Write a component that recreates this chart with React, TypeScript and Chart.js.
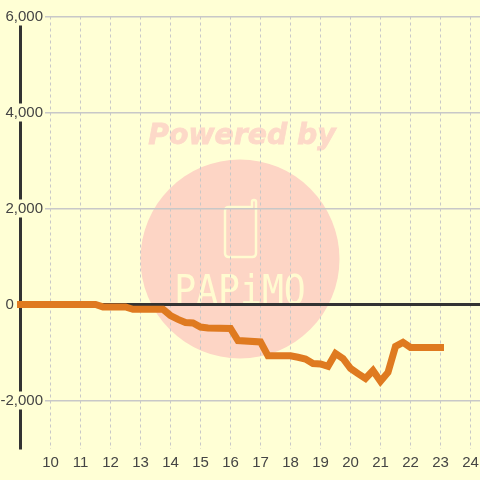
import React, { useEffect, useRef } from "react";
import { Chart, registerables } from "chart.js";

Chart.register(...registerables);

const hours = [9, 11.5, 11.75, 12.5, 12.75, 13.75, 14, 14.25, 14.5, 14.75, 15, 15.25, 16, 16.25, 17, 17.25, 18, 18.25, 18.5, 18.75, 19, 19.25, 19.5, 19.75, 20, 20.25, 20.5, 20.75, 21, 21.25, 21.5, 21.75, 22, 23];
const balance = [0, 0, -50, -50, -100, -100, -230, -310, -375, -385, -470, -490, -500, -750, -780, -1070, -1070, -1100, -1135, -1230, -1240, -1290, -1020, -1125, -1330, -1440, -1540, -1375, -1600, -1415, -875, -790, -895, -895];
const xTickValues = [10, 11, 12, 13, 14, 15, 16, 17, 18, 19, 20, 21, 22, 23, 24];
const yLabelled = [6000, 4000, 2000, 0, -2000];

const BG = "#FFFFD5";
const INK = "#333333";
const LABEL = "#444444";
const GRID = "#C8C8C8";
const FONT = { family: "'Liberation Sans', Arial, sans-serif", size: 15 };

const watermark = {
  id: "watermark",
  beforeDraw(chart: any) {
    const c = chart.ctx;
    c.save();
    c.fillStyle = BG;
    c.fillRect(0, 0, chart.width, chart.height);
    c.fillStyle = "#FDD5C5";
    c.beginPath();
    c.arc(240, 259, 99.5, 0, Math.PI * 2);
    c.fill();

    c.fillStyle = "#FDD9C8";
    c.strokeStyle = "#FDD9C8";
    c.lineWidth = 0.8;
    c.font = "italic bold 28.3px 'DejaVu Sans'";
    c.textAlign = "center";
    c.textBaseline = "alphabetic";
    c.fillText("Powered by", 242, 144);
    c.strokeText("Powered by", 242, 144);

    c.strokeStyle = "#FFFBD0";
    c.lineWidth = 2.5;
    c.lineJoin = "round";
    c.lineCap = "round";
    c.beginPath();
    c.moveTo(251, 207);
    c.lineTo(229, 207);
    c.quadraticCurveTo(225, 207, 225, 211);
    c.lineTo(225, 253);
    c.quadraticCurveTo(225, 257, 229, 257);
    c.lineTo(252, 257);
    c.quadraticCurveTo(256, 257, 256, 253);
    c.lineTo(256, 202);
    c.arc(254, 202, 2, 0, Math.PI, true);
    c.lineTo(252, 207);
    c.stroke();

    c.fillStyle = "#FFFBD0";
    c.save();
    c.translate(240, 304);
    c.scale(0.91, 1);
    c.font = "40px 'DejaVu Sans Mono'";
    c.fillText("PAPiMO", 0, 0);
    c.restore();
    c.restore();
  },
};

export default function App() {
  const ref = useRef<HTMLCanvasElement>(null);
  useEffect(() => {
    const chart = new Chart(ref.current!, {
      type: "line",
      data: {
        datasets: [
          {
            data: hours.map((h, i) => ({ x: h, y: balance[i] })),
            borderColor: "#DF7A20",
            borderWidth: 7,
            borderCapStyle: "square",
            borderJoinStyle: "miter",
            pointRadius: 0,
            tension: 0,
            clip: false,
          },
        ],
      },
      plugins: [watermark],
      options: {
        responsive: false,
        animation: false,
        layout: { padding: { top: 16.5, left: 20.5, right: 0, bottom: 0 } },
        plugins: { legend: { display: false }, tooltip: { enabled: false } },
        scales: {
          x: {
            type: "linear",
            min: 9,
            max: 24.317,
            afterBuildTicks: (s: any) => {
              s.ticks = xTickValues.map((value) => ({ value }));
            },
            afterFit: (s: any) => {
              s.height = 31.5;
              s.paddingLeft = 0;
              s.paddingRight = 0;
            },
            border: { display: false, dash: [3, 3] },
            grid: { color: GRID, lineWidth: 1, drawTicks: false },
            ticks: {
              font: FONT,
              color: LABEL,
              padding: 5,
              autoSkip: false,
              maxRotation: 0,
              callback: (v: any) => String(v),
            },
          },
          y: {
            min: -3000,
            max: 6000,
            afterFit: (s: any) => {
              s.width = 0;
            },
            border: { display: true, color: INK, width: 3 },
            grid: {
              drawTicks: false,
              color: (c: any) => (c.tick && c.tick.value === 0 ? INK : GRID),
              lineWidth: (c: any) => (c.tick && c.tick.value === 0 ? 3 : 1.5),
            },
            ticks: {
              stepSize: 1000,
              autoSkip: false,
              mirror: true,
              crossAlign: "far",
              padding: -20,
              font: FONT,
              color: LABEL,
              showLabelBackdrop: true,
              backdropPadding: { x: 2, y: 0 },
              backdropColor: (c: any) =>
                c.tick && c.tick.value !== 0 && yLabelled.includes(c.tick.value) ? BG : "rgba(0,0,0,0)",
              callback: (v: any) => {
                if (!yLabelled.includes(v)) return null;
                if (v === 0) return "0\u00A0\u00A0\u00A0\u00A0\u00A0\u00A0\u00A0";
                return Number(v).toLocaleString("en-US");
              },
            },
          },
        },
      } as any,
    } as any);
    return () => chart.destroy();
  }, []);
  return (
    <div style={{ position: "fixed", left: 0, top: 0, width: 480, height: 480 }}>
      <canvas ref={ref} width={480} height={480} style={{ display: "block", width: 480, height: 480 }} />
    </div>
  );
}
